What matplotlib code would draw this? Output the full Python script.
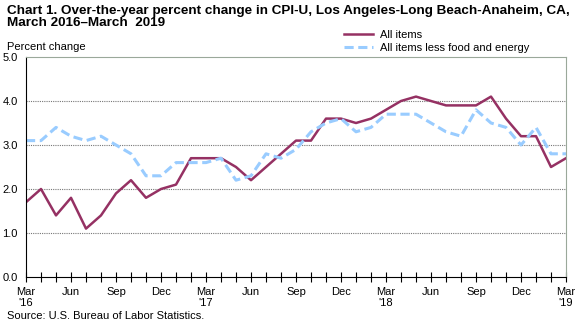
import matplotlib
matplotlib.use("Agg")
import matplotlib.pyplot as plt

plt.rcParams["font.family"] = ["Liberation Sans", "DejaVu Sans"]

# monthly index, Mar 2016 .. Mar 2019
months = list(range(37))
tick_labels = ["Mar\n'16", "Jun", "Sep", "Dec", "Mar\n'17", "Jun", "Sep", "Dec",
               "Mar\n'18", "Jun", "Sep", "Dec", "Mar\n'19"]

all_items = [1.7, 2.0, 1.4, 1.8, 1.1, 1.4, 1.9, 2.2, 1.8, 2.0, 2.1, 2.7,
             2.7, 2.7, 2.5, 2.2, 2.5, 2.8, 3.1, 3.1, 3.6, 3.6, 3.5, 3.6,
             3.8, 4.0, 4.1, 4.0, 3.9, 3.9, 3.9, 4.1, 3.6, 3.2, 3.2, 2.5,
             2.7]
core_items = [3.1, 3.1, 3.4, 3.2, 3.1, 3.2, 3.0, 2.8, 2.3, 2.3, 2.6, 2.6,
              2.6, 2.7, 2.2, 2.3, 2.8, 2.7, 2.9, 3.3, 3.5, 3.6, 3.3, 3.4,
              3.7, 3.7, 3.7, 3.5, 3.3, 3.2, 3.8, 3.5, 3.4, 3.0, 3.4, 2.8,
              2.8]

fig = plt.figure(figsize=(5.82, 3.26), dpi=100)
ax = fig.add_axes([26 / 582, 1 - 277 / 326, 540 / 582, 220 / 326])

ax.plot(months, all_items, color="#953163", lw=1.8, label="All items")
ax.plot(months, core_items, color="#99ccff", lw=2.2, ls=(0, (3, 1.5)),
        label="All items less food and energy")

ax.set_xlim(0, 36)
ax.set_ylim(0, 5)
ax.set_yticks([0, 1, 2, 3, 4, 5])
ax.set_yticklabels(["0.0", "1.0", "2.0", "3.0", "4.0", "5.0"], fontsize=8)
ax.tick_params(axis="y", length=0, pad=6)
for y in [1, 2, 3, 4]:
    ax.axhline(y, color="#777777", lw=0.8, ls=(0, (1, 1)), zorder=0)

ax.set_xticks(months, minor=True)
ax.set_xticks(range(0, 37, 3))
ax.set_xticklabels(tick_labels, fontsize=8)
ax.tick_params(axis="x", which="both", direction="inout", length=7, width=0.8)

ax.spines["top"].set_color("#9aa89a")
ax.spines["right"].set_color("#9aa89a")
ax.spines["left"].set_color("black")
ax.spines["bottom"].set_color("black")

fig.text(0.012, 0.985, "Chart 1. Over-the-year percent change in CPI-U, Los Angeles-Long Beach-Anaheim, CA,\nMarch 2016\u2013March  2019",
         fontsize=9.7, fontweight="bold", va="top", linespacing=1.05)
fig.text(0.012, 1 - 47 / 326, "Percent change", fontsize=8, va="center")
fig.text(0.012, 1 - 316 / 326, "Source: U.S. Bureau of Labor Statistics.", fontsize=8, va="center")

ax.legend(loc="lower left", bbox_to_anchor=(344 / 582, 1 - 53 / 326), bbox_transform=fig.transFigure,
          frameon=False, fontsize=8, handlelength=2.6, handletextpad=0.6,
          borderaxespad=0, borderpad=0, labelspacing=0.3)

fig.savefig("out.png", dpi=100)
